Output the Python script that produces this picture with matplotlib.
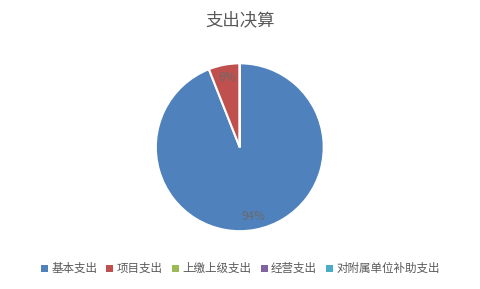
import matplotlib.pyplot as plt
from matplotlib.patches import Patch

plt.rcParams['font.family'] = ['Noto Sans CJK SC', 'DejaVu Sans']

# data
categories = ['基本支出', '项目支出', '上缴上级支出', '经营支出', '对附属单位补助支出']
values = [94, 6, 0, 0, 0]
colors = ['#4F81BD', '#C0504D', '#9BBB59', '#8064A2', '#4BACC6']
title = '支出决算'

fig = plt.figure(figsize=(4.81, 2.89), dpi=100)
ax = fig.add_axes([0.324, 0.2, 0.349, 0.581])

def fmt(p):
    return '%d%%' % round(p) if p > 0.5 else ''

wedges, texts, autotexts = ax.pie(values, colors=colors, startangle=90, counterclock=False,
                                  autopct=fmt, pctdistance=0.84,
                                  wedgeprops=dict(edgecolor='white', linewidth=1.5),
                                  textprops=dict(color='#6a6a6a', fontsize=8.5))
ax.set_xlim(-1, 1)
ax.set_ylim(-1, 1)
ax.set_aspect('equal')

fig.text(0.5, 0.93, title, ha='center', va='center', fontsize=12.5, color='#595959')

handles = [Patch(facecolor=c, edgecolor='none') for c in colors]
fig.legend(handles, categories, loc='center', bbox_to_anchor=(0.5, 0.07), ncol=5,
           frameon=False, fontsize=8.3, handlelength=0.6, handleheight=0.6,
           handletextpad=0.3, columnspacing=0.8, labelcolor='#595959')

fig.savefig('out.png', dpi=100)
